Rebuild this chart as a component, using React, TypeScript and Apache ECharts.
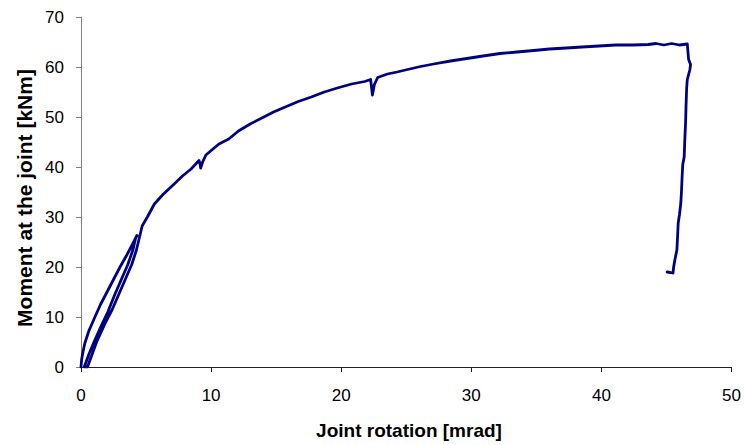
import React, { useEffect, useRef } from "react";
import * as echarts from "echarts";

const xTicks = [0, 10, 20, 30, 40, 50];
const yTicks = [0, 10, 20, 30, 40, 50, 60, 70];

// Rotation [mrad]
const rotation: number[] = [
  0, 0.05, 0.15, 0.3, 0.6, 1.07, 1.5, 2.0, 2.5, 3.0, 3.5, 3.95, 4.3,
  4.2, 4.0, 3.6, 3.1, 2.6, 2.06, 1.6, 1.0, 0.6, 0.25,
  0.5, 0.85, 1.2, 1.9, 2.4, 2.9, 3.4, 3.9, 4.25, 4.5, 4.7,
  5.1, 5.64, 6.3, 7.16, 7.8, 8.46, 9.07, 9.15, 9.2, 9.35, 9.6, 10.1, 10.6, 11.36,
  12.1, 13.0, 13.9, 14.8, 15.7, 16.7, 17.7, 18.7, 19.7, 20.8, 21.8, 22.26,
  22.35, 22.4, 22.55, 22.8, 23.55, 24.3, 25.1, 26.1, 27.1, 28.4, 29.65,
  30.9, 32.2, 33.5, 34.8, 36.0, 37.3, 38.5, 39.8, 41.1, 42.4, 43.6, 44.2, 44.8, 45.4, 46.0, 46.6,
  46.65, 46.7, 46.85, 46.8, 46.6, 46.55, 46.5, 46.47, 46.4, 46.36, 46.25, 46.2,
  46.15, 46.1, 46.0, 45.9, 45.85, 45.8, 45.65, 45.55, 45.5, 45.3, 45.05,
];

// Moment [kNm]
const moment: number[] = [
  0, 1.5, 3, 4.8, 7.2, 10, 12.5, 15, 17.5, 20, 22.3, 24.5, 26.3,
  25.8, 23.5, 20.5, 17.5, 14.5, 11, 8.5, 5, 2.5, 0,
  0, 2.5, 5, 9, 11.5, 14.5, 17.5, 20.5, 23.3, 26, 28.2,
  30, 32.6, 34.5, 36.6, 38.2, 39.6, 41.3, 40.6, 39.8, 41, 42.4, 43.5, 44.6, 45.6,
  47.2, 48.6, 49.8, 51, 52, 53.1, 54, 55, 55.8, 56.6, 57.1, 57.5,
  55.5, 54.4, 56.5, 57.9, 58.6, 59, 59.5, 60.1, 60.6, 61.2, 61.7,
  62.2, 62.7, 63, 63.3, 63.6, 63.8, 64, 64.2, 64.4, 64.4, 64.5, 64.7, 64.4, 64.7, 64.4, 64.6,
  63, 61.5, 60.5, 59.5, 57.5, 55.8, 52, 49, 45, 42, 40.5, 38,
  35, 32.8, 30.5, 28.8, 26, 23.4, 21.5, 20, 18.8, 18.9, 19,
];

const font = "'Liberation Sans', Arial, sans-serif";

export default function App() {
  const ref = useRef<HTMLDivElement>(null);
  useEffect(() => {
    if (!ref.current) return;
    const chart = echarts.init(ref.current, undefined, { renderer: "svg" });
    const data = rotation.map((x, i) => [x, moment[i]]);
    chart.setOption({
      animation: false,
      backgroundColor: "#ffffff",
      grid: { left: 81, right: 7, top: 17, bottom: 78, containLabel: false },
      xAxis: {
        type: "value",
        min: xTicks[0],
        max: xTicks[xTicks.length - 1],
        interval: 10,
        axisLine: { show: true, lineStyle: { color: "#222", width: 1 } },
        axisTick: { show: true, inside: false, length: 5, lineStyle: { color: "#222" } },
        axisLabel: { color: "#000", fontSize: 17, fontFamily: font, margin: 20 },
        splitLine: { show: false },
      },
      yAxis: {
        type: "value",
        min: yTicks[0],
        max: yTicks[yTicks.length - 1],
        interval: 10,
        axisLine: { show: true, lineStyle: { color: "#808080", width: 1 } },
        axisTick: { show: true, inside: false, length: 5, lineStyle: { color: "#808080" } },
        axisLabel: { color: "#000", fontSize: 17, fontFamily: font, margin: 17 },
        splitLine: { show: false },
      },
      graphic: [
        {
          type: "text",
          x: 409,
          y: 430,
          style: {
            text: "Joint rotation [mrad]",
            fontSize: 19,
            fontWeight: "bold",
            fontFamily: font,
            fill: "#000",
            textAlign: "center",
            textVerticalAlign: "middle",
          },
        },
        {
          type: "text",
          x: 24,
          y: 198,
          rotation: Math.PI / 2,
          style: {
            text: "Moment at the joint [kNm]",
            fontSize: 21,
            fontWeight: "bold",
            fontFamily: font,
            fill: "#000",
            textAlign: "center",
            textVerticalAlign: "middle",
          },
        },
      ],
      series: [
        {
          type: "line",
          data,
          showSymbol: false,
          smooth: false,
          lineStyle: { color: "#000080", width: 2.8, join: "round", cap: "round" },
          itemStyle: { color: "#000080" },
        },
      ],
    });
    return () => chart.dispose();
  }, []);
  return (
    <div
      ref={ref}
      style={{ position: "fixed", left: 0, top: 0, width: 744, height: 445 }}
    />
  );
}
